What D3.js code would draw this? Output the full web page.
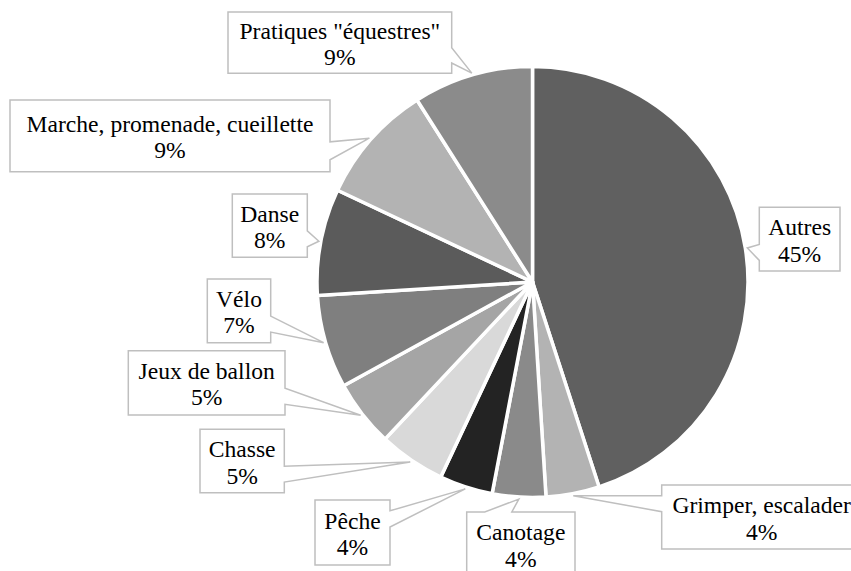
<!DOCTYPE html>
<html>
<head>
<meta charset="utf-8">
<script src="https://cdn.jsdelivr.net/npm/d3@7"></script>
</head>
<body style="margin:0">
<svg id="chart" width="851" height="571"></svg>
<script>
// Activity categories, clockwise from 12 o'clock
const categories = [
  "Autres",
  "Grimper, escalader",
  "Canotage",
  "Pêche",
  "Chasse",
  "Jeux de ballon",
  "Vélo",
  "Danse",
  "Marche, promenade, cueillette",
  "Pratiques \"équestres\""
];
// Share of each activity (%)
const shares = [45, 4, 4, 4, 5, 5, 7, 8, 9, 9];
// Slice fills (grey scale)
const sliceColors = ["#606060", "#b3b3b3", "#8a8a8a", "#232323", "#d9d9d9",
                     "#a5a5a5", "#7f7f7f", "#5b5b5b", "#b3b3b3", "#8b8b8b"];

// Callout box layout: [left, top, width, height]
const labelBoxes = [
  [759.3, 207.3,  80.7, 63.7],
  [661.7, 485.0, 200.0, 64.0],
  [466.7, 512.0, 108.3, 64.0],
  [315.0, 500.0,  75.0, 65.0],
  [200.0, 429.3,  84.3, 63.4],
  [128.3, 350.7, 156.7, 64.3],
  [207.3, 279.0,  63.4, 63.7],
  [232.3, 194.0,  75.0, 63.3],
  [ 10.0, 100.0, 320.0, 71.7],
  [228.0,  12.0, 223.7, 61.3]
];

const width = 851, height = 571;
const cx = 532.5, cy = 282, radius = 215.5;

const svg = d3.select("#chart").style("font-family", "Liberation Serif");
svg.append("rect").attr("width", width).attr("height", height).attr("fill", "#fff");

const data = categories.map((c, i) => ({ name: c, value: shares[i], color: sliceColors[i], box: labelBoxes[i] }));

const pie = d3.pie().sort(null).value(d => d.value).startAngle(0).endAngle(2 * Math.PI);
const arcs = pie(data);

const arc = d3.arc().innerRadius(0).outerRadius(radius);
const tipArc = d3.arc().innerRadius(radius + 2).outerRadius(radius + 2);

const g = svg.append("g").attr("transform", `translate(${cx},${cy})`);

g.selectAll("path.slice")
  .data(arcs)
  .join("path")
  .attr("class", "slice")
  .attr("d", arc)
  .attr("fill", d => d.data.color)
  .attr("stroke", "#fff")
  .attr("stroke-width", 3.5)
  .attr("stroke-linejoin", "round");

// Rectangular callout with a wedge pointing at (tx, ty)
function calloutPath(x, y, w, h, tx, ty) {
  const hc = x + w / 2, vc = y + h / 2;
  const dx = tx - hc, dy = ty - vc;
  const vertical = Math.abs(dy) - Math.abs(dx * h / w) > 0;
  const xg1 = dx > 0 ? 7 : 2, xg2 = dx > 0 ? 10 : 5;
  const yg1 = dy > 0 ? 7 : 2, yg2 = dy > 0 ? 10 : 5;
  const bx1 = x + w * xg1 / 12, bx2 = x + w * xg2 / 12;
  const by1 = y + h * yg1 / 12, by2 = y + h * yg2 / 12;
  const x1 = x + w, y1 = y + h;
  const p = d3.path();
  p.moveTo(x, y);
  if (vertical && dy < 0) { p.lineTo(bx1, y); p.lineTo(tx, ty); p.lineTo(bx2, y); }
  p.lineTo(x1, y);
  if (!vertical && dx > 0) { p.lineTo(x1, by1); p.lineTo(tx, ty); p.lineTo(x1, by2); }
  p.lineTo(x1, y1);
  if (vertical && dy > 0) { p.lineTo(bx2, y1); p.lineTo(tx, ty); p.lineTo(bx1, y1); }
  p.lineTo(x, y1);
  if (!vertical && dx < 0) { p.lineTo(x, by2); p.lineTo(tx, ty); p.lineTo(x, by1); }
  p.closePath();
  return p.toString();
}

const labels = svg.append("g").attr("class", "labels");
const fmt = v => d3.format("d")(v) + "%";

arcs.forEach(a => {
  const [bx, by, bw, bh] = a.data.box;
  const [tx, ty] = tipArc.centroid(a);
  const lg = labels.append("g");
  lg.append("path")
    .attr("d", calloutPath(bx, by, bw, bh, tx + cx, ty + cy))
    .attr("fill", "#fff")
    .attr("stroke", "#bfbfbf")
    .attr("stroke-width", 1.5);
  const mx = bx + bw / 2, my = by + bh / 2;
  [a.data.name, fmt(a.data.value)].forEach((t, k) => {
    lg.append("text")
      .attr("x", mx).attr("y", my - 4 + k * 26.5)
      .attr("text-anchor", "middle")
      .style("font-size", "23.6px")
      .style("font-family", "Liberation Serif")
      .attr("fill", "#000")
      .text(t);
  });
});
</script>
</body>
</html>
